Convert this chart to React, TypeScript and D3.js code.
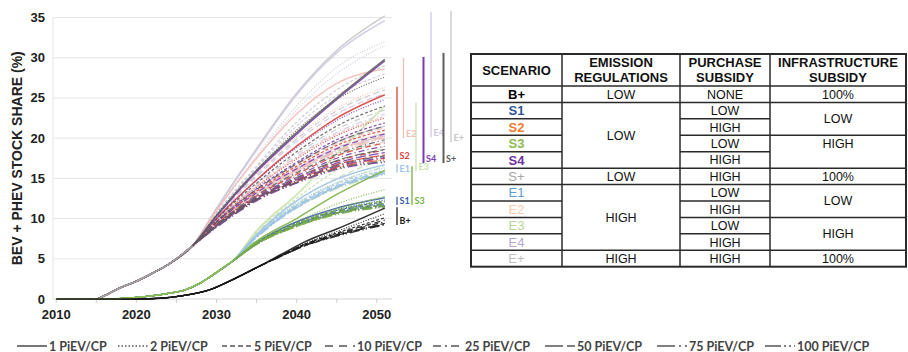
import React from 'react';
import * as d3 from 'd3';

const W = 908;
const H = 352;

// PiEV per charging point levels (legend order) and their dash styles
const PIEV_LEVELS = ['1 PiEV/CP', '2 PiEV/CP', '5 PiEV/CP', '10 PiEV/CP', '25 PiEV/CP', '50 PiEV/CP', '75 PiEV/CP', '100 PiEV/CP'];

// shared early part of the curves for each scenario family
const TRUNK_A_YEARS = [2010, 2015, 2016, 2018, 2020, 2022, 2024, 2027];
const TRUNK_A = [0, 0, 0.4, 1.4, 2.2, 3.2, 4.3, 6.6];
const TAIL_A_YEARS = [2030, 2035, 2040, 2045, 2051];

const TRUNK_B_YEARS = [2010, 2016, 2020, 2024, 2026, 2028, 2030, 2032];
const TRUNK_B = [0, 0, 0.2, 0.7, 1.1, 2.0, 3.3, 4.7];
const TAIL_B_YEARS = [2035, 2040, 2045, 2051];

const TRUNK_C_YEARS = [2010, 2020, 2023, 2026, 2029, 2032, 2035];
const TRUNK_C = [0, 0, 0.1, 0.45, 1.1, 2.4, 3.9];
const TAIL_C_YEARS = [2038, 2041, 2045, 2051];

// one row per PiEV/CP level (1 ... 100)
const S2_TAILS = [
  [10.0, 14.8, 19.0, 22.5, 25.4],
  [9.7, 13.9, 17.4, 20.3, 22.5],
  [9.5, 13.4, 16.5, 19.1, 21.0],
  [9.3, 12.8, 15.5, 17.8, 19.4],
  [9.2, 12.6, 15.0, 17.1, 18.5],
  [9.1, 12.5, 14.8, 16.7, 17.9],
  [9.0, 12.4, 14.6, 16.4, 17.5],
  [9.0, 12.3, 14.5, 16.3, 17.3],
];
const S4_TAILS = [
  [10.3, 15.8, 20.5, 24.8, 29.6],
  [10.0, 14.7, 18.8, 22.2, 24.8],
  [9.6, 13.7, 17.0, 19.8, 21.9],
  [9.5, 13.2, 16.2, 18.7, 20.5],
  [9.2, 12.7, 15.3, 17.5, 19.0],
  [9.1, 12.5, 14.9, 16.9, 18.2],
  [9.0, 12.4, 14.7, 16.5, 17.6],
  [8.9, 12.2, 14.4, 16.1, 17.0],
];
const SPLUS_TAILS = [
  [10.4, 16.0, 20.7, 25.0, 29.8],
  [10.5, 16.0, 21.0, 24.8, 27.6],
  [9.9, 14.4, 18.3, 21.5, 24.0],
  [9.6, 13.6, 16.8, 19.5, 21.5],
  [9.3, 12.9, 15.7, 18.0, 19.8],
  [9.2, 12.6, 15.1, 17.2, 18.6],
  [9.1, 12.4, 14.7, 16.6, 17.8],
  [9.0, 12.3, 14.5, 16.2, 17.1],
];
const E2_TAILS = [
  [11.0, 17.5, 23.0, 26.8, 28.6],
  [10.4, 15.6, 20.2, 23.7, 26.3],
  [9.8, 14.0, 17.6, 20.5, 22.7],
  [9.6, 13.5, 16.7, 19.3, 21.3],
  [9.5, 13.3, 16.3, 18.8, 20.6],
  [9.4, 13.1, 16.1, 18.5, 20.3],
  [9.4, 13.0, 15.9, 18.3, 20.1],
  [9.4, 12.9, 15.9, 18.2, 20.0],
];
const E4_TAILS = [
  [11.2, 18.5, 25.4, 30.6, 34.6],
  [10.9, 17.5, 23.5, 28.0, 31.5],
  [10.6, 16.3, 21.5, 25.3, 28.0],
  [10.2, 15.2, 19.6, 23.0, 25.5],
  [9.8, 14.0, 17.7, 20.7, 23.0],
  [9.6, 13.6, 16.8, 19.5, 21.5],
  [9.5, 13.3, 16.3, 18.8, 20.6],
  [9.4, 13.0, 16.0, 18.4, 20.2],
];
const EPLUS_TAILS = [
  [11.3, 18.7, 25.6, 30.9, 35.2],
  [11.0, 17.8, 24.0, 28.8, 32.0],
  [10.7, 16.5, 22.0, 26.0, 29.0],
  [10.3, 15.4, 19.9, 23.4, 26.0],
  [9.8, 14.2, 18.0, 21.1, 23.5],
  [9.6, 13.6, 16.8, 19.5, 21.5],
  [9.4, 13.1, 16.1, 18.5, 20.3],
  [9.3, 12.8, 15.6, 17.9, 19.6],
];
const S1_TAILS = [
  [7.0, 9.6, 11.3, 12.6],
  [7.0, 9.5, 11.1, 12.3],
  [6.9, 9.4, 11.0, 12.1],
  [6.9, 9.3, 10.9, 11.9],
  [6.9, 9.3, 10.8, 11.8],
  [6.8, 9.2, 10.7, 11.7],
  [6.8, 9.2, 10.7, 11.6],
  [6.8, 9.1, 10.6, 11.5],
];
const S3_TAILS = [
  [7.2, 10.0, 13.0, 16.0],
  [7.1, 9.6, 11.8, 13.6],
  [7.0, 9.4, 11.2, 12.7],
  [6.9, 9.3, 11.0, 12.2],
  [6.9, 9.2, 10.8, 11.9],
  [6.8, 9.1, 10.7, 11.7],
  [6.8, 9.0, 10.6, 11.5],
  [6.8, 9.0, 10.5, 11.4],
];
const E1_TAILS = [
  [8.0, 12.2, 14.9, 16.7],
  [7.9, 11.9, 14.5, 16.3],
  [7.8, 11.7, 14.3, 16.0],
  [7.8, 11.6, 14.1, 15.8],
  [7.7, 11.5, 14.0, 15.7],
  [7.7, 11.4, 13.9, 15.6],
  [7.7, 11.4, 13.9, 15.6],
  [7.6, 11.3, 13.8, 15.5],
];
const E3_TAILS = [
  [8.5, 13.0, 18.0, 24.0],
  [8.4, 12.8, 17.0, 21.0],
  [8.3, 12.5, 16.0, 19.0],
  [8.2, 12.2, 15.0, 17.5],
  [8.0, 11.8, 14.4, 16.5],
  [7.9, 11.6, 14.0, 16.0],
  [7.8, 11.4, 13.8, 15.7],
  [7.8, 11.3, 13.7, 15.5],
];
const BPLUS_TAILS = [
  [5.5, 7.1, 8.7, 11.3],
  [5.4, 6.9, 8.4, 10.6],
  [5.4, 6.8, 8.2, 10.1],
  [5.4, 6.8, 8.1, 9.8],
  [5.3, 6.7, 8.0, 9.6],
  [5.3, 6.7, 7.9, 9.4],
  [5.3, 6.6, 7.9, 9.3],
  [5.3, 6.6, 7.8, 9.2],
];

// range of 2050 outcomes marked beside the plot
const BRACKETS = [
  { name: 'S2', lo: 17.3, hi: 26.4 },
  { name: 'E1', lo: 15.7, hi: 16.8 },
  { name: 'S1', lo: 11.7, hi: 12.7 },
  { name: 'B+', lo: 9.2, hi: 11.4 },
  { name: 'E2', lo: 20.0, hi: 30.0 },
  { name: 'S3', lo: 11.7, hi: 16.5 },
  { name: 'E3', lo: 15.9, hi: 24.4 },
  { name: 'S4', lo: 16.9, hi: 30.1 },
  { name: 'E4', lo: 20.1, hi: 35.7 },
  { name: 'S+', lo: 16.9, hi: 30.6 },
  { name: 'E+', lo: 19.5, hi: 35.8 },
];

// table
const TABLE_HEADERS = [['SCENARIO'], ['EMISSION', 'REGULATIONS'], ['PURCHASE', 'SUBSIDY'], ['INFRASTRUCTURE', 'SUBSIDY']];
const TABLE_SCENARIOS = ['B+', 'S1', 'S2', 'S3', 'S4', 'S+', 'E1', 'E2', 'E3', 'E4', 'E+'];
const EMISSION_CELLS = [
  { text: 'LOW', span: 1 },
  { text: 'LOW', span: 4 },
  { text: 'LOW', span: 1 },
  { text: 'HIGH', span: 4 },
  { text: 'HIGH', span: 1 },
];
const PURCHASE_CELLS = ['NONE', 'LOW', 'HIGH', 'LOW', 'HIGH', 'HIGH', 'LOW', 'HIGH', 'LOW', 'HIGH', 'HIGH'];
const INFRA_CELLS = [
  { text: '100%', span: 1 },
  { text: 'LOW', span: 2 },
  { text: 'HIGH', span: 2, top: true },
  { text: '100%', span: 1 },
  { text: 'LOW', span: 2 },
  { text: 'HIGH', span: 2 },
  { text: '100%', span: 1 },
];

const Y_TICKS = [0, 5, 10, 15, 20, 25, 30, 35];
const X_TICKS = [2010, 2020, 2030, 2040, 2050];

// styles
const DASHES = ['', '1,1.6', '3,2', '6,3.5', '6,3,1.2,3', '10,3', '10,3,1.2,3', '10,3,1.2,2,1.2,3'];
const LEGEND_DASHES = ['', '1.5,2', '5,3', '8,6', '8,4,2,4', '18,4', '18,4,2,4', '16,3,2,3,2,3'];
const LINE_COLORS: Record<string, string> = {
  'B+': '#1a1a1a', S1: '#3a5da6', S2: '#d8433c', S3: '#79b044', S4: '#7a3cad', 'S+': '#5e5e5e',
  E1: '#9cc3ea', E2: '#f4bcb4', E3: '#c8e1ac', E4: '#d0c6e6', 'E+': '#c6c6c6',
};
const TRUNK_COLORS = ['#a9a9a9', '#8fc15e', '#1a1a1a'];
const TABLE_COLORS: Record<string, string> = {
  'B+': '#000000', S1: '#2f5597', S2: '#ed7d31', S3: '#8bbb55', S4: '#7030a0', 'S+': '#a6a6a6',
  E1: '#5b9bd5', E2: '#f8cbad', E3: '#b6d69a', E4: '#b4a7d6', 'E+': '#bfbfbf',
};
const BRACKET_X: Record<string, number> = {
  S2: 397, E1: 397, S1: 397, 'B+': 397, E2: 403.5, S3: 412, E3: 416, S4: 423.5, E4: 431, 'S+': 443.5, 'E+': 451,
};

type Series = { name: string; years: number[]; trunk: number[]; tailYears: number[]; tails: number[][] };

// drawing order: light E lines at the back
const SERIES: Series[] = [
  { name: 'E+', years: TRUNK_A_YEARS, trunk: TRUNK_A, tailYears: TAIL_A_YEARS, tails: EPLUS_TAILS },
  { name: 'E4', years: TRUNK_A_YEARS, trunk: TRUNK_A, tailYears: TAIL_A_YEARS, tails: E4_TAILS },
  { name: 'E2', years: TRUNK_A_YEARS, trunk: TRUNK_A, tailYears: TAIL_A_YEARS, tails: E2_TAILS },
  { name: 'E3', years: TRUNK_B_YEARS, trunk: TRUNK_B, tailYears: TAIL_B_YEARS, tails: E3_TAILS },
  { name: 'E1', years: TRUNK_B_YEARS, trunk: TRUNK_B, tailYears: TAIL_B_YEARS, tails: E1_TAILS },
  { name: 'S2', years: TRUNK_A_YEARS, trunk: TRUNK_A, tailYears: TAIL_A_YEARS, tails: S2_TAILS },
  { name: 'S4', years: TRUNK_A_YEARS, trunk: TRUNK_A, tailYears: TAIL_A_YEARS, tails: S4_TAILS },
  { name: 'S+', years: TRUNK_A_YEARS, trunk: TRUNK_A, tailYears: TAIL_A_YEARS, tails: SPLUS_TAILS },
  { name: 'S1', years: TRUNK_B_YEARS, trunk: TRUNK_B, tailYears: TAIL_B_YEARS, tails: S1_TAILS },
  { name: 'S3', years: TRUNK_B_YEARS, trunk: TRUNK_B, tailYears: TAIL_B_YEARS, tails: S3_TAILS },
  { name: 'B+', years: TRUNK_C_YEARS, trunk: TRUNK_C, tailYears: TAIL_C_YEARS, tails: BPLUS_TAILS },
];

const TRUNKS = [
  { years: TRUNK_A_YEARS, values: TRUNK_A },
  { years: TRUNK_B_YEARS, values: TRUNK_B },
  { years: TRUNK_C_YEARS, values: TRUNK_C },
];

const ARIAL = '"Liberation Sans", Arial, sans-serif';
const LEGEND_FONT = 'Lato, "Open Sans", sans-serif';

export default function App() {
  const plotLeft = 53;
  const plotRight = 392;
  const x = d3.scaleLinear().domain([2009.6, 2051.9]).range([plotLeft, plotRight]);
  const y = d3.scaleLinear().domain([0, 35]).range([299, 17.5]);

  const line = d3
    .line<[number, number]>()
    .x((d) => x(d[0]))
    .y((d) => y(d[1]))
    .curve(d3.curveMonotoneX);

  const curves: { key: string; name: string; level: number; d: string }[] = [];
  SERIES.forEach((s) => {
    s.tails.forEach((tail, li) => {
      const pts: [number, number][] = [
        ...s.years.map((yr, i) => [yr, s.trunk[i]] as [number, number]),
        ...s.tailYears.map((yr, i) => [yr, tail[i]] as [number, number]),
      ];
      curves.push({ key: `${s.name}-${li}`, name: s.name, level: li, d: line(pts) || '' });
    });
  });

  // table geometry
  const colX = [471, 562, 680, 770, 906];
  const headTop = 54;
  const headBottom = 86;
  const nRows = TABLE_SCENARIOS.length;
  const rowY = d3.scaleLinear().domain([0, nRows]).range([headBottom, 266.7]);

  const spanBounds = (cells: { span: number }[]) => {
    const b = new Set<number>();
    let acc = 0;
    cells.forEach((c) => {
      acc += c.span;
      b.add(acc);
    });
    return b;
  };
  const emissionBounds = spanBounds(EMISSION_CELLS);
  const infraBounds = spanBounds(INFRA_CELLS);

  const spanCells = (cells: { text: string; span: number; top?: boolean }[]) => {
    let acc = 0;
    return cells.map((c) => {
      const start = acc;
      acc += c.span;
      const cy = c.top ? (rowY(start) + rowY(start + 1)) / 2 : (rowY(start) + rowY(acc)) / 2;
      return { text: c.text, cy };
    });
  };

  const legendX = [17, 118, 222, 325, 433, 545, 657, 765];

  return (
    <div style={{ position: 'fixed', left: 0, top: 0 }}>
      <svg width={W} height={H} style={{ display: 'block', background: '#fff' }}>
        {/* gridlines */}
        {Y_TICKS.map((t) => (
          <line key={`g${t}`} x1={plotLeft} x2={plotRight} y1={y(t)} y2={y(t)} stroke={t === 0 ? '#d4d4d4' : '#e6e6e6'} strokeWidth={1} />
        ))}
        <line x1={plotLeft} x2={plotLeft} y1={y(35)} y2={y(0)} stroke="#e6e6e6" />
        {d3.range(2010, 2051, 5).map((t) => (
          <line key={`xt${t}`} x1={x(t)} x2={x(t)} y1={y(0)} y2={y(0) + 4} stroke="#cfcfcf" />
        ))}

        {/* curves */}
        <g fill="none">
          {curves.map((c) => (
            <path
              key={c.key}
              d={c.d}
              stroke={LINE_COLORS[c.name]}
              strokeWidth={c.level === 0 ? 1.5 : 1.2}
              strokeDasharray={DASHES[c.level] || undefined}
              strokeOpacity={0.9}
            />
          ))}
          {TRUNKS.map((t, i) => (
            <path
              key={`tr${i}`}
              d={line(t.years.map((yr, j) => [yr, t.values[j]] as [number, number])) || ''}
              stroke={TRUNK_COLORS[i]}
              strokeWidth={1.5}
            />
          ))}
        </g>

        {/* axis labels */}
        {Y_TICKS.map((t) => (
          <text key={`yl${t}`} x={45} y={y(t)} dy="0.35em" textAnchor="end" fontFamily={ARIAL} fontWeight="bold" fontSize={13} fill="#222">
            {t}
          </text>
        ))}
        {X_TICKS.map((t) => (
          <text key={`xl${t}`} x={x(t)} y={319} textAnchor="middle" fontFamily={ARIAL} fontWeight="bold" fontSize={13} fill="#222">
            {t}
          </text>
        ))}
        <text
          transform={`translate(22,${(y(0) + y(35)) / 2}) rotate(-90)`}
          textAnchor="middle"
          fontFamily={ARIAL}
          fontWeight="bold"
          fontSize={14}
          fill="#222"
        >
          BEV + PHEV STOCK SHARE (%)
        </text>

        {/* brackets */}
        {BRACKETS.map((b) => {
          const bx = BRACKET_X[b.name];
          const thick = b.name === 'S4' || b.name === 'S+';
          return (
            <g key={`br${b.name}`}>
              <line x1={bx} x2={bx} y1={y(b.hi)} y2={y(b.lo)} stroke={LINE_COLORS[b.name]} strokeWidth={thick ? 2 : 1.3} />
              <text x={bx + 2.5} y={y(b.lo) - 1} fontFamily={LEGEND_FONT} fontWeight="bold" fontSize={9} fill={LINE_COLORS[b.name]}>
                {b.name}
              </text>
            </g>
          );
        })}

        {/* table */}
        <g fontFamily={ARIAL} fill="#111">
          {TABLE_HEADERS.map((h, i) => {
            const cx = (colX[i] + colX[i + 1]) / 2;
            const cy = (headTop + headBottom) / 2;
            return (
              <text key={`h${i}`} x={cx} textAnchor="middle" fontWeight="bold" fontSize={13}>
                {h.map((ln, j) => (
                  <tspan key={j} x={cx} y={cy + (j - (h.length - 1) / 2) * 15.6} dy="0.35em">
                    {ln}
                  </tspan>
                ))}
              </text>
            );
          })}
          {TABLE_SCENARIOS.map((s, i) => (
            <text
              key={`sc${s}`}
              x={(colX[0] + colX[1]) / 2}
              y={(rowY(i) + rowY(i + 1)) / 2}
              dy="0.36em"
              textAnchor="middle"
              fontWeight={i < 5 ? 'bold' : 'normal'}
              fontSize={13}
              fill={TABLE_COLORS[s]}
            >
              {s}
            </text>
          ))}
          {spanCells(EMISSION_CELLS).map((c, i) => (
            <text key={`em${i}`} x={(colX[1] + colX[2]) / 2} y={c.cy} dy="0.36em" textAnchor="middle" fontSize={12.5}>
              {c.text}
            </text>
          ))}
          {PURCHASE_CELLS.map((t, i) => (
            <text key={`pu${i}`} x={(colX[2] + colX[3]) / 2} y={(rowY(i) + rowY(i + 1)) / 2} dy="0.36em" textAnchor="middle" fontSize={12.5}>
              {t}
            </text>
          ))}
          {spanCells(INFRA_CELLS).map((c, i) => (
            <text key={`in${i}`} x={(colX[3] + colX[4]) / 2} y={c.cy} dy="0.36em" textAnchor="middle" fontSize={12.5}>
              {c.text}
            </text>
          ))}
        </g>
        <g stroke="#2a2a2a" strokeWidth={1.5}>
          {colX.slice(1, -1).map((cx, i) => (
            <line key={`v${i}`} x1={cx} x2={cx} y1={headTop} y2={rowY(nRows)} />
          ))}
          <line x1={colX[0]} x2={colX[4]} y1={headBottom} y2={headBottom} />
          {d3.range(1, nRows).map((r) => (
            <g key={`rb${r}`}>
              <line x1={colX[0]} x2={colX[1]} y1={rowY(r)} y2={rowY(r)} />
              {emissionBounds.has(r) && <line x1={colX[1]} x2={colX[2]} y1={rowY(r)} y2={rowY(r)} />}
              <line x1={colX[2]} x2={colX[3]} y1={rowY(r)} y2={rowY(r)} />
              {infraBounds.has(r) && <line x1={colX[3]} x2={colX[4]} y1={rowY(r)} y2={rowY(r)} />}
            </g>
          ))}
          <rect x={colX[0]} y={headTop} width={colX[4] - colX[0]} height={rowY(nRows) - headTop} fill="none" strokeWidth={2} />
        </g>

        {/* legend */}
        {PIEV_LEVELS.map((lab, i) => (
          <g key={`lg${i}`} transform={`translate(${legendX[i]},346)`}>
            <line x1={0} x2={30} y1={0} y2={0} stroke="#555" strokeWidth={1.6} strokeDasharray={LEGEND_DASHES[i] || undefined} />
            <text x={32} y={4.5} fontFamily={LEGEND_FONT} fontWeight="bold" fontSize={12.5} fill="#444">
              {lab}
            </text>
          </g>
        ))}
      </svg>
    </div>
  );
}
